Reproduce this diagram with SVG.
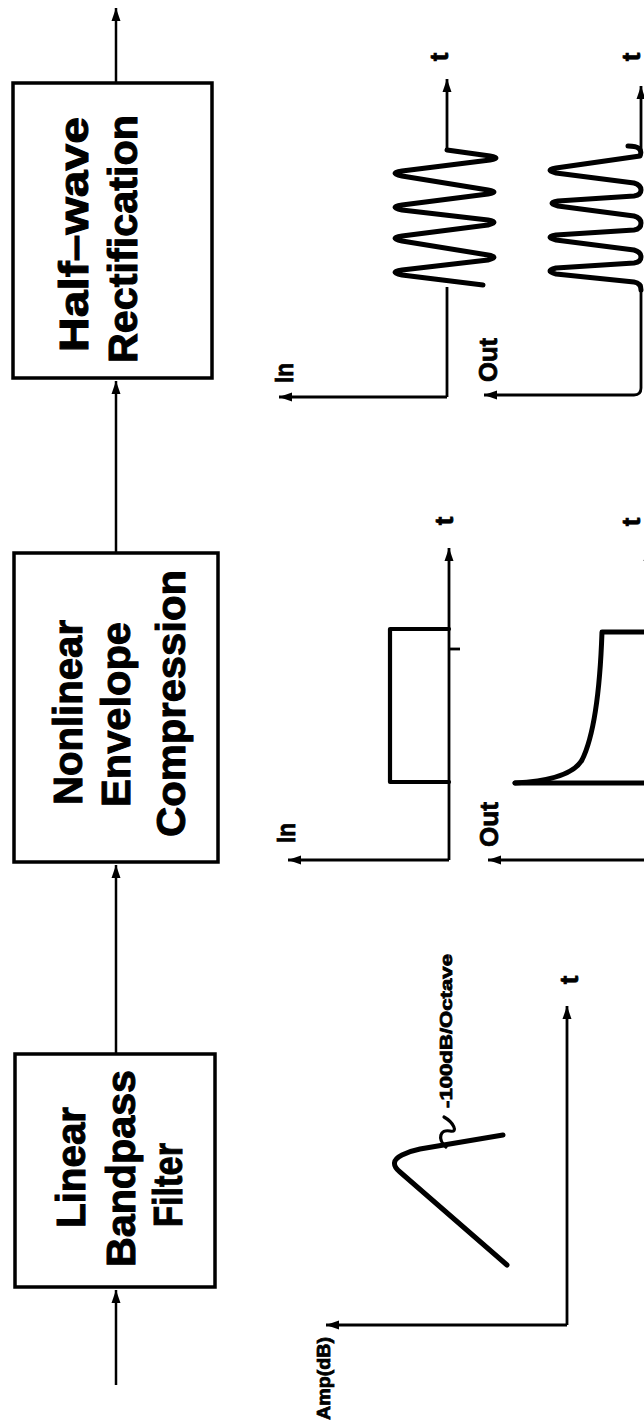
<svg xmlns="http://www.w3.org/2000/svg" width="644" height="1424" viewBox="0 0 644 1424">
<style>
  .box { fill: #fff; stroke: #000; stroke-width: 3.5; }
  .lbl { font-family: "Liberation Sans", Arial, Helvetica, sans-serif; font-weight: bold; fill: #000; stroke: #000; stroke-width: 0.8; }
  .big { font-size: 40px; stroke-width: 1; }
  .ax { font-size: 26px; }
  .conn { fill: none; stroke: #000; stroke-width: 2.5; }
  .axis { fill: none; stroke: #000; stroke-width: 2.8; }
  .curve { fill: none; stroke: #000; stroke-width: 5; stroke-linecap: round; stroke-linejoin: round; }
</style>
<defs>
  <marker id="arr" markerUnits="userSpaceOnUse" markerWidth="14" markerHeight="10" refX="13" refY="5" orient="auto">
    <path d="M0,0.5 L13,5 L0,9.5 z" fill="#000"/>
  </marker>
</defs>
<rect width="644" height="1424" fill="#fff"/>

<g id="connectors">
  <path class="conn" d="M116,1385 L116,1290" marker-end="url(#arr)"/>
  <path class="conn" d="M116,1054 L116,865" marker-end="url(#arr)"/>
  <path class="conn" d="M116,553 L116,381" marker-end="url(#arr)"/>
  <path class="conn" d="M116,83 L116,8" marker-end="url(#arr)"/>
</g>

<g id="node-bandpass">
  <rect class="box" x="15" y="1054" width="200" height="233"/>
  <text class="lbl big" transform="translate(85,1228) rotate(-90)" textLength="121" lengthAdjust="spacingAndGlyphs">Linear</text>
  <text class="lbl big" transform="translate(135,1267) rotate(-90)" textLength="197" lengthAdjust="spacingAndGlyphs">Bandpass</text>
  <text class="lbl big" transform="translate(182,1227) rotate(-90)" textLength="84" lengthAdjust="spacingAndGlyphs">Filter</text>
</g>

<g id="node-compression">
  <rect class="box" x="14" y="553" width="204" height="309"/>
  <text class="lbl big" transform="translate(82,805) rotate(-90)" textLength="185" lengthAdjust="spacingAndGlyphs">Nonlinear</text>
  <text class="lbl big" transform="translate(130,807) rotate(-90)" textLength="185" lengthAdjust="spacingAndGlyphs">Envelope</text>
  <text class="lbl big" transform="translate(185,837) rotate(-90)" textLength="267" lengthAdjust="spacingAndGlyphs">Compression</text>
</g>

<g id="node-rectification">
  <rect class="box" x="13" y="83" width="199" height="295"/>
  <text class="lbl big" transform="translate(88,352) rotate(-90)" textLength="235" lengthAdjust="spacingAndGlyphs">Half–wave</text>
  <text class="lbl big" transform="translate(137,363) rotate(-90)" textLength="248" lengthAdjust="spacingAndGlyphs">Rectification</text>
</g>

<g id="chart-filter">
  <path class="axis" d="M567,1325 L567,1006" marker-end="url(#arr)"/>
  <path class="axis" d="M567,1325 L326,1325" marker-end="url(#arr)"/>
  <path class="curve" d="M507,1265 L400,1172 Q388,1162 402,1155 Q410,1151 420,1149 L503,1135"/>
  <path class="curve" style="stroke-width:3.2" d="M446,1147 C437,1139 440,1129 450,1131 C459,1133 453,1122 444,1117"/>
  <text class="lbl" style="font-size:17px" transform="translate(452,1108) rotate(-90)" textLength="154" lengthAdjust="spacingAndGlyphs">-100dB/Octave</text>
  <text class="lbl" style="font-size:19px" transform="translate(330,1420) rotate(-90)" textLength="83" lengthAdjust="spacingAndGlyphs">Amp(dB)</text>
  <text class="lbl ax" text-anchor="middle" transform="translate(578,980) rotate(-90)">t</text>
</g>

<g id="chart-compression-in">
  <path class="axis" d="M449,860 L449,548" marker-end="url(#arr)"/>
  <path class="axis" d="M449,860 L288,860" marker-end="url(#arr)"/>
  <path class="curve" style="stroke-width:4.2" d="M449,782 L390,782 L390,629 L449,629"/>
  <path class="axis" d="M449,649 L460,649"/>
  <text class="lbl ax" transform="translate(295,843) rotate(-90)" textLength="20" lengthAdjust="spacingAndGlyphs">In</text>
  <text class="lbl ax" text-anchor="middle" transform="translate(453,521) rotate(-90)">t</text>
</g>

<g id="chart-compression-out">
  <path class="axis" d="M648,860 L488,860" marker-end="url(#arr)"/>
  <path class="axis" d="M648,860 L648,548" marker-end="url(#arr)"/>
  <path class="curve" d="M515,783 L648,783"/>
  <path class="curve" d="M515,783 C555,781 575,772 582,760 C594,736 600,690 602,632 L648,632"/>
  <text class="lbl ax" transform="translate(498,847) rotate(-90)" textLength="45" lengthAdjust="spacingAndGlyphs">Out</text>
  <text class="lbl ax" text-anchor="middle" transform="translate(640,522) rotate(-90)">t</text>
</g>

<g id="chart-rect-in">
  <path class="axis" d="M447,397 L447,287"/>
  <path class="axis" d="M447,150 L447,79" marker-end="url(#arr)"/>
  <path class="axis" d="M447,397 L279,397" marker-end="url(#arr)"/>
  <path class="curve" d="M447,150 L490,156 Q502,158 490,160 L402,171 Q388,173 402,176 L488,190 Q500,192 488,194 L402,205 Q388,207 402,210 L488,220 Q500,222 488,225 L402,236 Q388,238 402,241 L488,255 Q500,257 488,260 L402,270 Q388,272 402,275 L483,285"/>
  <text class="lbl ax" transform="translate(293,383) rotate(-90)" textLength="20" lengthAdjust="spacingAndGlyphs">In</text>
  <text class="lbl ax" text-anchor="middle" transform="translate(448,57) rotate(-90)">t</text>
</g>

<g id="chart-rect-out">
  <path class="axis" d="M641,284 L641,388 Q641,395 634,395 L484,395" marker-end="url(#arr)"/>
  <path class="axis" d="M641,156 L641,86" marker-end="url(#arr)"/>
  <path class="curve" d="M628,146 Q644,146 640,156 L556,168 Q544,170 556,173 L634,183 Q641,185 641,190 Q641,195 634,196 L558,201 Q546,203 558,206 L634,216 Q641,218 641,223 Q641,229 634,230 L556,235 Q544,237 556,240 L634,250 Q641,252 641,257 Q641,262 634,263 L556,268 Q544,271 556,274 L634,282 Q641,283 641,290"/>
  <text class="lbl ax" transform="translate(497,382) rotate(-90)" textLength="44" lengthAdjust="spacingAndGlyphs">Out</text>
  <text class="lbl ax" text-anchor="middle" transform="translate(640,57) rotate(-90)">t</text>
</g>
</svg>
